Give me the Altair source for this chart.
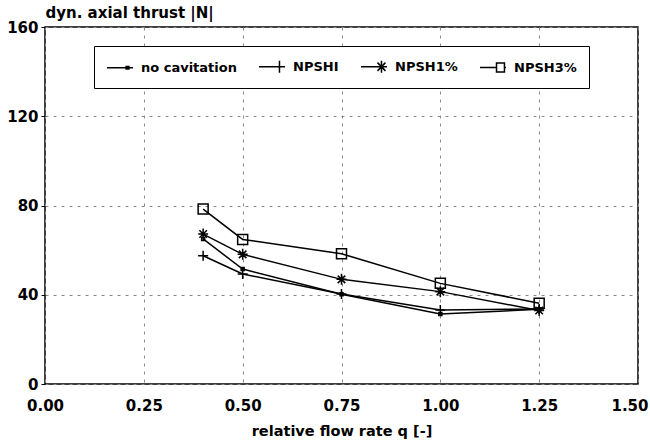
import altair as alt
import pandas as pd

q = [0.4, 0.5, 0.75, 1.0, 1.25]
series_names = ["no cavitation", "NPSHI", "NPSH1%", "NPSH3%"]
no_cavitation = [65.0, 51.5, 40.2, 31.4, 33.5]
npshi = [57.5, 49.3, 40.3, 33.2, 33.6]
npsh1 = [67.2, 58.1, 46.9, 41.4, 32.9]
npsh3 = [78.4, 64.8, 58.4, 45.1, 36.2]
x_ticks = [0.0, 0.25, 0.5, 0.75, 1.0, 1.25, 1.5]
y_ticks = [0, 40, 80, 120, 160]

rows = []
for name, vals in zip(series_names, [no_cavitation, npshi, npsh1, npsh3]):
    for xv, yv in zip(q, vals):
        rows.append({"q": xv, "thrust": yv, "series": name})
df = pd.DataFrame(rows)

FONT = "DejaVu Sans"

# marker shapes on the plot (custom paths)
plot_shapes = [
    "M-0.3,-0.3H0.3V0.3H-0.3Z",
    "M-1,0H1M0,-1V1",
    "M-1,0H1M0,-1.1V1.1M-0.75,-0.75L0.75,0.75M-0.75,0.75L0.75,-0.75",
    "M-1,-1H1V1H-1Z",
]
# legend symbols: line segment + marker
legend_shapes = [
    "M-1,0H2.47M1.55,-0.18H1.91V0.18H1.55Z",
    "M-1,0H2.47M1.73,-0.8V0.8M1.0,0H2.47",
    "M-1,0H2.47M1.73,-0.8V0.8M1.2,-0.55L2.26,0.55M1.2,0.55L2.26,-0.55",
    "M-1,0H1.2M2.26,0H2.47M1.2,-0.6H2.26V0.6H1.2Z",
]

x_enc = alt.X(
    "q:Q",
    scale=alt.Scale(domain=[0, 1.5], nice=False, zero=False),
    axis=alt.Axis(
        values=x_ticks, format=".2f", title="relative flow rate q [-]",
        ticks=False, labelPadding=14, titlePadding=11,
        labelFont=FONT, labelFontSize=15, labelFontWeight="bold", labelColor="black",
        labelAlign=alt.condition("datum.value == 1.5", alt.value("right"), alt.value("center")),
        labelOffset=alt.condition("datum.value == 1.5", alt.value(10), alt.value(0)),
        titleFont=FONT, titleFontSize=14.5, titleFontWeight="bold", titleColor="black",
        grid=True, gridColor="#8a8a8a", gridDash=[3, 5], gridWidth=1,
        domain=False, labelFlush=False,
    ),
)
y_enc = alt.Y(
    "thrust:Q",
    scale=alt.Scale(domain=[0, 160], nice=False),
    axis=alt.Axis(
        values=y_ticks, title="dyn. axial thrust |N|",
        tickSize=4, tickColor="black", labelPadding=3,
        labelFont=FONT, labelFontSize=15, labelFontWeight="bold", labelColor="black",
        titleFont=FONT, titleFontSize=15, titleFontWeight="bold", titleColor="black",
        titleAngle=0, titleX=0, titleY=-10, titleAlign="left", titleBaseline="alphabetic",
        grid=True, gridColor="#8a8a8a", gridDash=[3, 5], gridWidth=1,
        domain=False,
    ),
)

base = alt.Chart(df)

lines = base.mark_line(color="black", strokeWidth=1.5).encode(
    x=x_enc, y=y_enc, detail="series:N"
)

points = base.mark_point(filled=False, color="black", strokeWidth=1.5, size=100, opacity=1).encode(
    x="q:Q",
    y="thrust:Q",
    shape=alt.Shape("series:N", scale=alt.Scale(domain=series_names, range=plot_shapes), legend=None),
)

legend_layer = base.transform_filter("datum.q < 0").mark_point(
    filled=False, color="black", strokeWidth=1.5, size=225, opacity=1
).encode(
    x="q:Q",
    y="thrust:Q",
    shape=alt.Shape(
        "series:N",
        scale=alt.Scale(domain=series_names, range=legend_shapes),
        legend=alt.Legend(
            title=None, orient="none", legendX=49, legendY=19, direction="horizontal", columns=4,
            strokeColor="black", fillColor="white", padding=12, columnPadding=19,
            labelOffset=18, symbolSize=225, symbolStrokeWidth=1.5, symbolStrokeColor="black",
            symbolFillColor="transparent",
            labelFont=FONT, labelFontSize=13, labelFontWeight="bold", labelColor="black",
        ),
    ),
)

chart = (
    alt.layer(lines, points, legend_layer)
    .resolve_scale(shape="independent")
    .properties(
        width=593, height=357,
        autosize=alt.AutoSizeParams(type="none"),
        padding={"left": 45, "top": 27, "right": 12, "bottom": 60},
        background="white",
    )
    .configure_view(stroke="black", strokeWidth=1.5)
)

chart.save("out.html", embed_options={"renderer": "svg", "actions": False})
